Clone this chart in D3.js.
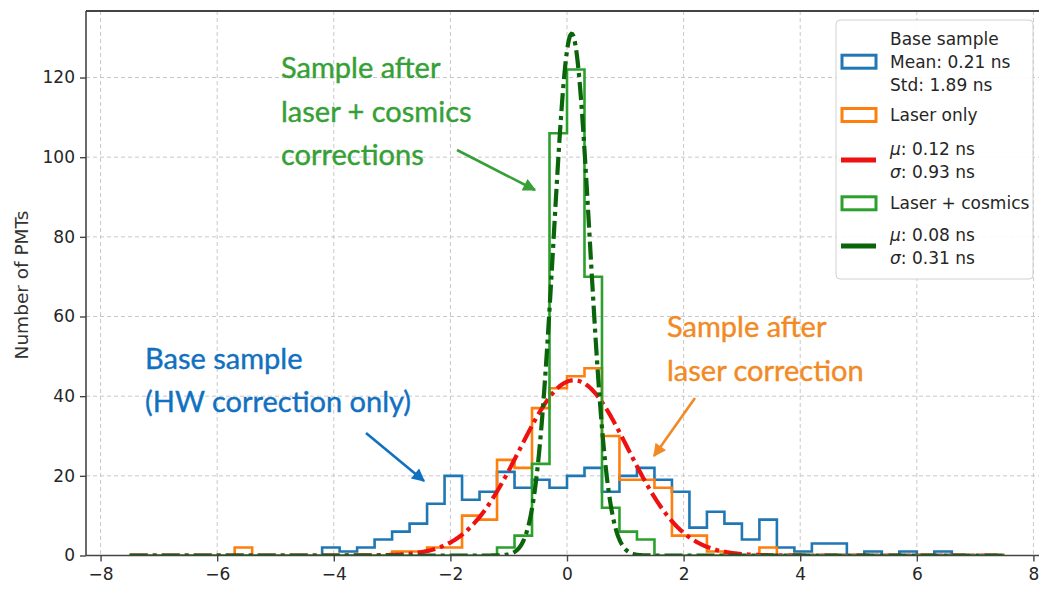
<!DOCTYPE html>
<html>
<head>
<meta charset="utf-8">
<script src="https://cdn.jsdelivr.net/npm/d3@7"></script>
<style>
  html, body { margin: 0; padding: 0; background: #fff; }
  svg { display: block; }
</style>
</head>
<body>
<svg id="chart" width="1039" height="589"></svg>
<script>
// Time-offset histograms: 50 bins of 0.3 ns between -7.5 ns and 7.5 ns
const binStart = -7.5;
const binWidth = 0.3;
const binCount = 50;

// Counts per bin (index 0 is [-7.5, -7.2) ns)
const baseCounts = [
  0, 0, 0, 0, 0, 0, 0, 0, 0, 0,
  0, 2, 1, 2, 4, 6, 8, 13, 20, 14,
  16, 21, 17, 19, 17, 20, 22, 16, 20, 22,
  19, 16, 7, 11, 8, 4, 9, 2, 1, 3,
  3, 0, 1, 0, 1, 0, 1, 0, 0, 0
];
const laserCounts = [
  0, 0, 0, 0, 0, 0, 2, 0, 0, 0,
  0, 0, 0, 0, 0, 1, 1, 2, 2, 10,
  9, 24, 22, 37, 42, 45, 47, 30, 19, 19,
  17, 5, 5, 1, 0, 0, 2, 0, 0, 0,
  0, 0, 0, 0, 0, 0, 0, 0, 0, 0
];
const cosmicsCounts = [
  0, 0, 0, 0, 0, 0, 0, 0, 0, 0,
  0, 0, 0, 0, 0, 0, 0, 0, 0, 0,
  0, 2, 5, 23, 106, 122, 70, 12, 6, 4,
  0, 0, 0, 0, 0, 0, 0, 0, 0, 0,
  0, 0, 0, 0, 0, 0, 0, 0, 0, 0
];

// Gaussian fits: [laser only, laser + cosmics]
const fitMu = [0.12, 0.08];
const fitSigma = [0.93, 0.31];
const fitPeak = [44, 131];
const fitColors = ["#ee1111", "#0a640a"];

// Axis ticks
const xTicks = [-8, -6, -4, -2, 0, 2, 4, 6, 8];
const yTicks = [0, 20, 40, 60, 80, 100, 120];
const yLabel = "Number of PMTs";

// Legend entries
const legendLabels = [
  ["Base sample", "Mean: 0.21 ns", "Std: 1.89 ns"],
  ["Laser only"],
  ["μ|: 0.12 ns", "σ|: 0.93 ns"],
  ["Laser + cosmics"],
  ["μ|: 0.08 ns", "σ|: 0.31 ns"]
];

// Callout texts
const greenNote = ["Sample after", "laser + cosmics", "corrections"];
const blueNote = ["Base sample", "(HW correction only)"];
const orangeNote = ["Sample after", "laser correction"];

const histColors = ["#1f77b4", "#ff7f0e", "#2ca02c"];

const svg = d3.select("#chart");
const plotL = 86, plotT = 11, plotR = 1048, plotB = 555.5;

const x = d3.scaleLinear().domain([-8.25, 8.25]).range([plotL, plotR]);
const y = d3.scaleLinear().domain([0, 136.7]).range([plotB, plotT]);

const defs = svg.append("defs");
defs.append("clipPath").attr("id", "plotclip")
  .append("rect").attr("x", plotL).attr("y", plotT)
  .attr("width", plotR - plotL).attr("height", plotB - plotT);

// grid
const grid = svg.append("g");
grid.selectAll(".gx").data(xTicks).join("line")
  .attr("x1", d => x(d)).attr("x2", d => x(d))
  .attr("y1", plotT).attr("y2", plotB)
  .attr("stroke", "#c8c8c8").attr("stroke-width", 1)
  .attr("stroke-dasharray", "4,3");
grid.selectAll(".gy").data(yTicks).join("line")
  .attr("x1", plotL).attr("x2", plotR)
  .attr("y1", d => y(d)).attr("y2", d => y(d))
  .attr("stroke", "#c8c8c8").attr("stroke-width", 1)
  .attr("stroke-dasharray", "4,3");

const plot = svg.append("g").attr("clip-path", "url(#plotclip)");

const edges = d3.range(binCount + 1).map(i => binStart + i * binWidth);
function stepPoints(counts) {
  const pts = [[edges[0], 0]];
  counts.forEach((c, i) => { pts.push([edges[i], c]); pts.push([edges[i + 1], c]); });
  pts.push([edges[binCount], 0]);
  return pts;
}
const line = d3.line().x(d => x(d[0])).y(d => y(d[1]));

function drawHist(counts, color) {
  plot.append("path").attr("d", line(stepPoints(counts)))
    .attr("fill", "none").attr("stroke", color)
    .attr("stroke-width", 2.6).attr("stroke-linejoin", "miter");
}
function drawFit(k) {
  const xs = d3.range(0, 1001).map(i => binStart + i * (edges[binCount] - binStart) / 1000);
  const pts = xs.map(v => [v, fitPeak[k] * Math.exp(-0.5 * Math.pow((v - fitMu[k]) / fitSigma[k], 2))]);
  plot.append("path").attr("d", line(pts))
    .attr("fill", "none").attr("stroke", fitColors[k])
    .attr("stroke-width", 4.2).attr("stroke-dasharray", "18,5,4,5");
}

drawHist(baseCounts, histColors[0]);
drawHist(laserCounts, histColors[1]);
drawFit(0);
drawHist(cosmicsCounts, histColors[2]);
drawFit(1);

// spines
svg.append("line").attr("x1", plotL).attr("x2", plotR).attr("y1", plotT).attr("y2", plotT)
  .attr("stroke", "#444").attr("stroke-width", 2);
svg.append("line").attr("x1", plotL).attr("x2", plotL).attr("y1", plotT).attr("y2", plotB)
  .attr("stroke", "#444").attr("stroke-width", 1.6);
svg.append("line").attr("x1", plotL).attr("x2", plotR).attr("y1", plotB).attr("y2", plotB)
  .attr("stroke", "#444").attr("stroke-width", 1.6);

// axes
const xAxis = svg.append("g").attr("transform", `translate(0,${plotB})`)
  .call(d3.axisBottom(x).tickValues(xTicks).tickSize(6).tickPadding(6));
const yAxis = svg.append("g").attr("transform", `translate(${plotL},0)`)
  .call(d3.axisLeft(y).tickValues(yTicks).tickSize(6).tickPadding(5));
[xAxis, yAxis].forEach(g => {
  g.select(".domain").remove();
  g.selectAll(".tick line").attr("stroke", "#444").attr("stroke-width", 1.4);
  g.selectAll(".tick text").attr("fill", "#262626")
    .style("font-family", "DejaVu Sans").style("font-size", "17px");
});

svg.append("text").attr("transform", "translate(28,285) rotate(-90)")
  .attr("text-anchor", "middle")
  .style("font-family", "DejaVu Sans").style("font-size", "18.5px").attr("fill", "#333")
  .text(yLabel);

// legend
const lg = svg.append("g");
lg.append("rect").attr("x", 836).attr("y", 20).attr("width", 197).attr("height", 259)
  .attr("rx", 4).attr("fill", "#fff").attr("fill-opacity", 0.9)
  .attr("stroke", "#d0d0d0").attr("stroke-width", 1);
const rowCenter = [61.7, 115, 160, 203.3, 246];
const rowKind = ["patch", "patch", "line", "patch", "line"];
const rowColor = [histColors[0], histColors[1], fitColors[0], histColors[2], fitColors[1]];
const lineGap = 23;
legendLabels.forEach((lines, r) => {
  const cy = rowCenter[r];
  if (rowKind[r] === "patch") {
    lg.append("rect").attr("x", 842).attr("y", cy - 6.5).attr("width", 34).attr("height", 13)
      .attr("fill", "#fff").attr("stroke", rowColor[r]).attr("stroke-width", 3);
  } else {
    lg.append("line").attr("x1", 841).attr("x2", 876).attr("y1", cy).attr("y2", cy)
      .attr("stroke", rowColor[r]).attr("stroke-width", 5);
  }
  const n = lines.length;
  lines.forEach((s, i) => {
    const base = cy + (i - (n - 1) / 2) * lineGap + 6;
    const t = lg.append("text").attr("x", 890).attr("y", base)
      .style("font-family", "DejaVu Sans").style("font-size", "17px").attr("fill", "#262626");
    if (s.includes("|")) {
      const [sym, rest] = s.split("|");
      t.append("tspan").style("font-style", "italic").text(sym);
      t.append("tspan").text(rest);
    } else {
      t.text(s);
    }
  });
});

// callouts
function note(lines, x0, y0, gap, color, size) {
  const g = svg.append("g");
  lines.forEach((s, i) => {
    g.append("text").attr("x", x0).attr("y", y0 + i * gap)
      .style("font-family", "Lato").style("font-size", size + "px")
      .attr("fill", color).attr("stroke", color).attr("stroke-width", 0.4)
      .text(s);
  });
}
note(greenNote, 281, 78, 43.5, "#36a036", 29);
note(blueNote, 145, 369, 43, "#1170c0", 29);
note(orangeNote, 667, 337, 44, "#f28a24", 29);

// arrows
function arrow(id, color, x1, y1, x2, y2) {
  defs.append("marker").attr("id", id).attr("viewBox", "0 0 10 10")
    .attr("refX", 9).attr("refY", 5).attr("markerUnits", "userSpaceOnUse")
    .attr("markerWidth", 16).attr("markerHeight", 13).attr("orient", "auto")
    .append("path").attr("d", "M0,0 L10,5 L0,10 Z").attr("fill", color);
  svg.append("line").attr("x1", x1).attr("y1", y1).attr("x2", x2).attr("y2", y2)
    .attr("stroke", color).attr("stroke-width", 2.6).attr("marker-end", `url(#${id})`);
}
arrow("ag", "#36a036", 457, 150, 535, 190);
arrow("ab", "#1170c0", 366, 433, 424, 481);
arrow("ao", "#f28a24", 695, 398, 654, 456);
</script>
</body>
</html>
